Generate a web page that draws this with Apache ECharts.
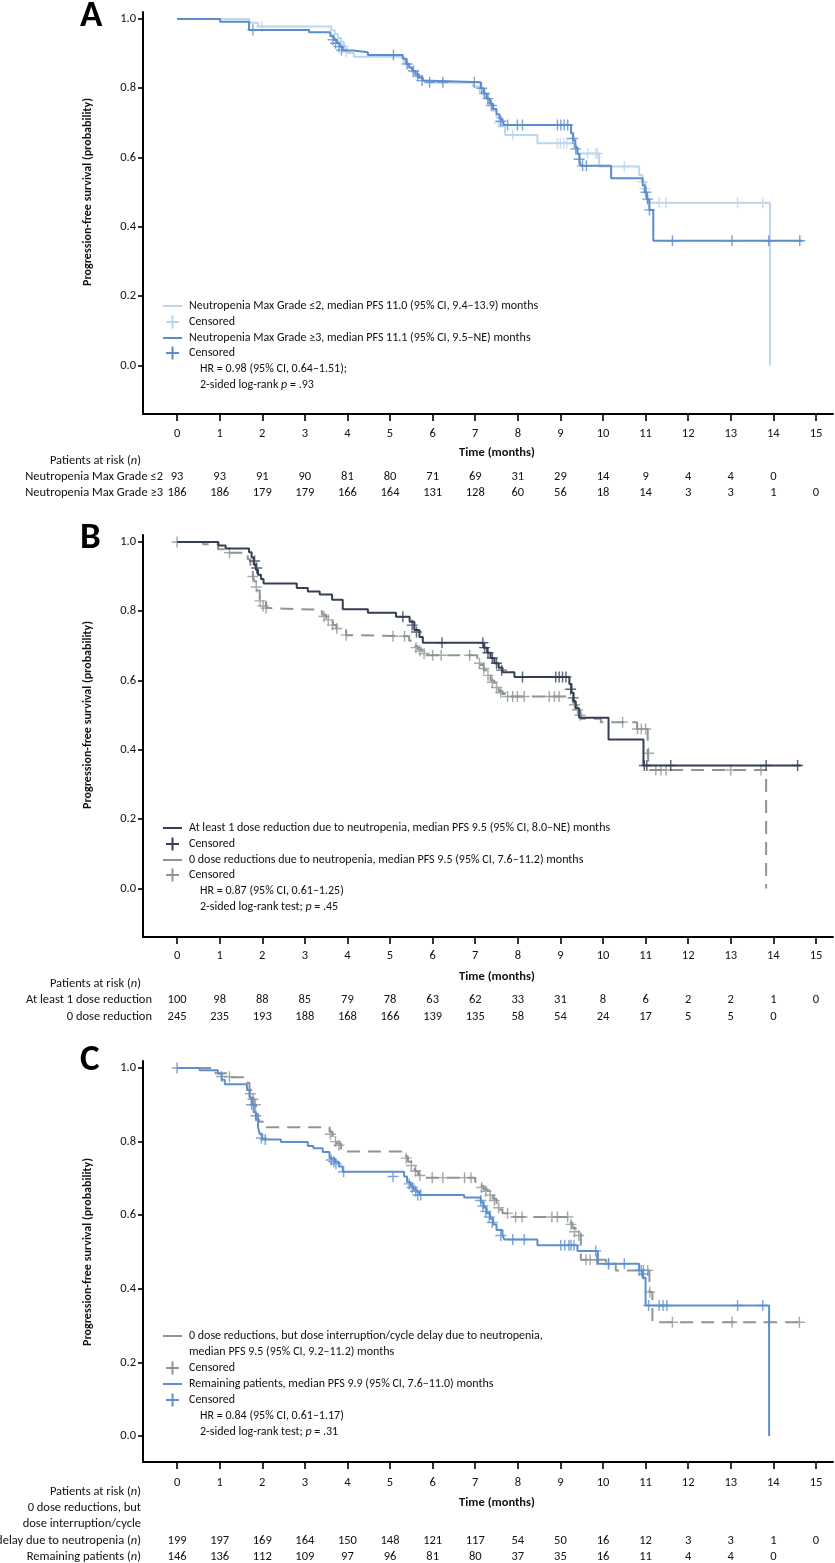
<!DOCTYPE html>
<html><head><meta charset="utf-8">
<script src="https://cdn.jsdelivr.net/npm/echarts@6/dist/echarts.min.js"></script>
<style>html,body{margin:0;padding:0;background:#fff}#c{width:835px;height:1563px}</style>
</head><body><div id="c"></div>
<script>
// ---------------- data ----------------
const months = [0,1,2,3,4,5,6,7,8,9,10,11,12,13,14,15];
const yTicks = [0,0.2,0.4,0.6,0.8,1.0];

const riskA_le2 = [93,93,91,90,81,80,71,69,31,29,14,9,4,4,0];
const riskA_ge3 = [186,186,179,179,166,164,131,128,60,56,18,14,3,3,1,0];
const riskB_ge1 = [100,98,88,85,79,78,63,62,33,31,8,6,2,2,1,0];
const riskB_0   = [245,235,193,188,168,166,139,135,58,54,24,17,5,5,0];
const riskC_int = [199,197,169,164,150,148,121,117,54,50,16,12,3,3,1,0];
const riskC_rem = [146,136,112,109,97,96,81,80,37,35,16,11,4,4,0];

const kmA_le2 = [[0,1],[1.70,0.989],[1.90,0.978],[3.62,0.967],[3.70,0.956],[3.78,0.945],[3.85,0.935],[3.90,0.924],[3.95,0.913],[4.00,0.902],[4.15,0.891],[5.32,0.875],[5.42,0.86],[5.52,0.845],[5.62,0.832],[5.75,0.822],[5.85,0.816],[6.95,0.805],[7.10,0.79],[7.20,0.775],[7.30,0.755],[7.40,0.735],[7.50,0.715],[7.58,0.69],[7.70,0.665],[8.46,0.641],[9.32,0.625],[9.40,0.612],[9.91,0.574],[10.85,0.55],[10.93,0.53],[11.00,0.50],[11.04,0.4695],[13.92,0]];
const censA_le2 = [[1.99,0.978],[3.92,0.92],[3.97,0.905],[7.55,0.70],[7.88,0.665],[8.93,0.641],[9.0,0.641],[9.08,0.641],[9.15,0.641],[9.64,0.612],[9.83,0.612],[9.87,0.612],[10.5,0.574],[10.93,0.53],[10.98,0.51],[11.32,0.4695],[11.48,0.4695],[13.16,0.4695],[13.75,0.4695]];
const kmA_ge3 = [[0,1],[1.01,0.992],[1.69,0.968],[3.10,0.9615],[3.60,0.95],[3.68,0.94],[3.75,0.93],[3.82,0.92],[3.89,0.909],[4.13,0.904],[4.48,0.896],[5.30,0.885],[5.38,0.87],[5.45,0.86],[5.52,0.85],[5.60,0.84],[5.68,0.83],[5.77,0.822],[5.81,0.817],[7.13,0.80],[7.20,0.785],[7.27,0.77],[7.35,0.755],[7.42,0.74],[7.50,0.725],[7.57,0.712],[7.64,0.704],[7.68,0.694],[9.25,0.67],[9.30,0.65],[9.35,0.63],[9.40,0.61],[9.45,0.59],[9.48,0.576],[10.19,0.54],[10.93,0.52],[10.98,0.50],[11.03,0.48],[11.09,0.449],[11.18,0.36],[14.69,0.36]];
const censA_ge3 = [[1.78,0.968],[3.66,0.94],[3.72,0.93],[3.80,0.92],[3.86,0.91],[5.08,0.896],[5.40,0.87],[5.55,0.85],[5.65,0.835],[5.75,0.822],[5.93,0.817],[6.24,0.817],[6.98,0.817],[7.15,0.80],[7.22,0.785],[7.30,0.77],[7.38,0.75],[7.60,0.705],[7.76,0.694],[7.99,0.694],[8.11,0.694],[8.93,0.694],[9.01,0.694],[9.09,0.694],[9.17,0.694],[9.29,0.655],[9.36,0.625],[9.44,0.595],[9.52,0.576],[9.61,0.576],[11.01,0.50],[11.05,0.48],[11.09,0.449],[11.63,0.36],[13.03,0.36],[13.89,0.36],[14.62,0.36]];

const kmB_ge1 = [[0,1],[0.97,0.99],[1.14,0.981],[1.69,0.97],[1.75,0.955],[1.80,0.935],[1.85,0.92],[1.90,0.905],[1.97,0.893],[2.03,0.88],[2.81,0.867],[3.07,0.857],[3.35,0.848],[3.64,0.833],[3.89,0.806],[4.48,0.796],[5.14,0.784],[5.46,0.77],[5.57,0.746],[5.69,0.726],[5.77,0.709],[7.20,0.695],[7.28,0.68],[7.36,0.665],[7.45,0.65],[7.55,0.637],[7.64,0.624],[7.92,0.61],[9.21,0.59],[9.26,0.565],[9.31,0.54],[9.36,0.52],[9.44,0.493],[10.13,0.43],[10.95,0.355],[14.65,0.355]];
const censB_ge1 = [[1.82,0.945],[1.87,0.925],[5.30,0.784],[5.52,0.76],[5.62,0.74],[6.22,0.709],[7.18,0.709],[7.22,0.695],[7.30,0.68],[7.40,0.665],[7.50,0.65],[7.62,0.63],[8.11,0.61],[8.89,0.61],[8.97,0.61],[9.05,0.61],[9.13,0.61],[9.24,0.575],[9.30,0.55],[10.97,0.355],[11.03,0.355],[11.59,0.355],[13.83,0.355],[14.57,0.355]];
const kmB_0 = [[0,1],[0.61,0.993],[0.96,0.979],[1.19,0.969],[1.66,0.95],[1.72,0.925],[1.78,0.9],[1.82,0.886],[1.88,0.86],[1.94,0.828],[2.09,0.809],[2.15,0.804],[3.40,0.79],[3.50,0.78],[3.58,0.77],[3.66,0.76],[3.74,0.75],[3.81,0.746],[3.97,0.731],[4.05,0.728],[5.45,0.715],[5.55,0.70],[5.65,0.69],[5.75,0.68],[5.85,0.673],[7.05,0.66],[7.12,0.645],[7.20,0.63],[7.28,0.615],[7.36,0.60],[7.45,0.585],[7.55,0.57],[7.64,0.561],[7.70,0.554],[9.29,0.54],[9.35,0.525],[9.42,0.51],[9.48,0.49],[9.95,0.48],[10.80,0.46],[11.05,0.386],[11.09,0.342],[13.83,0]];
const censB_0 = [[0,1],[1.23,0.969],[1.78,0.9],[1.86,0.87],[1.95,0.83],[2.02,0.815],[2.09,0.809],[3.45,0.785],[3.55,0.775],[3.65,0.76],[3.75,0.75],[3.97,0.731],[5.07,0.728],[5.34,0.728],[5.61,0.695],[5.70,0.685],[5.80,0.678],[6.00,0.673],[6.20,0.673],[6.87,0.673],[7.10,0.65],[7.20,0.635],[7.30,0.615],[7.40,0.595],[7.50,0.58],[7.60,0.565],[7.76,0.554],[7.88,0.554],[7.99,0.554],[8.15,0.554],[8.74,0.554],[8.86,0.554],[8.97,0.554],[9.33,0.53],[9.40,0.515],[9.46,0.50],[10.46,0.48],[10.81,0.46],[10.90,0.46],[11.0,0.46],[11.07,0.39],[11.24,0.342],[11.36,0.342],[11.48,0.342],[13.0,0.342],[13.71,0.342]];

const kmC_int = [[0,1],[0.90,0.986],[1.20,0.975],[1.64,0.96],[1.70,0.94],[1.75,0.92],[1.80,0.90],[1.85,0.88],[1.90,0.865],[1.94,0.854],[2.05,0.845],[2.10,0.839],[3.58,0.827],[3.65,0.81],[3.74,0.795],[3.85,0.78],[3.92,0.773],[5.33,0.76],[5.42,0.745],[5.50,0.73],[5.58,0.72],[5.66,0.71],[5.75,0.702],[7.00,0.69],[7.10,0.68],[7.20,0.67],[7.30,0.66],[7.41,0.645],[7.50,0.63],[7.58,0.615],[7.64,0.605],[7.90,0.595],[9.20,0.58],[9.28,0.565],[9.36,0.55],[9.48,0.479],[10.07,0.468],[10.30,0.45],[11.09,0.391],[11.16,0.309],[14.65,0.309]];
const censC_int = [[1.04,0.977],[1.23,0.976],[1.72,0.93],[1.78,0.915],[1.84,0.9],[3.60,0.82],[3.72,0.80],[3.80,0.79],[5.38,0.755],[5.50,0.735],[5.60,0.72],[5.70,0.708],[5.99,0.702],[6.24,0.702],[6.75,0.702],[6.90,0.702],[7.15,0.675],[7.25,0.665],[7.35,0.655],[7.45,0.64],[7.55,0.62],[7.76,0.605],[7.95,0.595],[8.10,0.595],[8.80,0.595],[8.93,0.595],[9.17,0.595],[9.25,0.575],[9.33,0.555],[9.43,0.545],[9.60,0.479],[9.70,0.479],[9.85,0.479],[10.13,0.468],[10.85,0.45],[10.95,0.45],[11.05,0.45],[11.10,0.391],[11.63,0.309],[13.03,0.309],[13.89,0.309],[14.61,0.309]];
const kmC_rem = [[0,1],[0.53,0.994],[0.96,0.985],[1.05,0.968],[1.12,0.956],[1.64,0.94],[1.70,0.92],[1.75,0.90],[1.80,0.88],[1.85,0.86],[1.90,0.84],[1.94,0.82],[2.00,0.806],[2.44,0.799],[3.07,0.788],[3.20,0.782],[3.42,0.772],[3.58,0.755],[3.70,0.745],[3.80,0.732],[3.89,0.718],[5.33,0.705],[5.40,0.69],[5.48,0.68],[5.55,0.67],[5.62,0.664],[5.69,0.655],[6.74,0.648],[7.13,0.635],[7.20,0.62],[7.27,0.605],[7.35,0.59],[7.42,0.575],[7.50,0.56],[7.64,0.545],[7.68,0.534],[8.46,0.518],[9.40,0.503],[9.88,0.468],[10.85,0.45],[10.93,0.43],[11.00,0.3545],[13.90,0]];
const censC_rem = [[0,1],[1.75,0.9],[1.85,0.87],[1.98,0.81],[2.07,0.806],[3.62,0.75],[3.68,0.745],[3.73,0.74],[3.91,0.718],[5.07,0.705],[5.45,0.685],[5.52,0.675],[5.60,0.665],[5.65,0.655],[5.72,0.655],[7.13,0.64],[7.18,0.625],[7.25,0.61],[7.33,0.595],[7.40,0.58],[7.60,0.545],[7.88,0.534],[8.15,0.534],[9.01,0.518],[9.10,0.518],[9.20,0.518],[9.25,0.518],[9.32,0.518],[9.83,0.503],[10.13,0.468],[10.50,0.468],[10.90,0.45],[10.95,0.44],[11.07,0.3545],[11.32,0.3545],[11.41,0.3545],[11.50,0.3545],[13.16,0.3545],[13.75,0.3545]];

// ---------------- style ----------------
const F = 'Carlito, Lato, "Open Sans", sans-serif';
const C_LIGHT = '#bcd6ee', C_BLUE = '#5b8ccb', C_NAVY = '#353f53', C_GRAY = '#8e9595', C_BLUE2 = '#5d8fd0';
const PLUS = 'path://M4.35,0H5.65V4.35H10V5.65H5.65V10H4.35V5.65H0V4.35H4.35Z';
const XMIN = -0.8, XMAX = 15.4;
const TS = 12.5;   // tick / table font size
const LS = 12;     // legend font size

const panels = [
  {top:12,   height:402, ymin:-0.14,  ymax:1.02,  lab:20, r1:63, r2:79, risk:[riskA_le2, riskA_ge3]},
  {top:535,  height:402, ymin:-0.14,  ymax:1.02,  lab:19, r1:63, r2:80, risk:[riskB_ge1, riskB_0]},
  {top:1061, height:401, ymin:-0.0707,ymax:1.019, lab:21, r1:79, r2:95, risk:[riskC_int, riskC_rem]}
];

const grid = [], xAxis = [], yAxis = [];
panels.forEach((p, g) => {
  grid.push({left:143, width:690, top:p.top, height:p.height, containLabel:false, outerBoundsMode:'none'});
  xAxis.push({gridIndex:g, type:'value', min:XMIN, max:XMAX, position:'bottom',
    axisLine:{show:true, onZero:false, lineStyle:{color:'#000', width:2}},
    axisTick:{show:true, customValues:months, length:7, lineStyle:{color:'#000', width:1.6}},
    axisLabel:{customValues:months, margin:p.lab, verticalAlign:'middle', fontSize:TS, color:'#111', fontFamily:F},
    splitLine:{show:false}});
  [p.r1, p.r2].forEach((off, k) => {
    const arr = p.risk[k];
    xAxis.push({gridIndex:g, type:'value', min:XMIN, max:XMAX, position:'bottom', offset:off,
      axisLine:{show:false}, axisTick:{show:false}, splitLine:{show:false},
      axisLabel:{customValues:months, margin:0, verticalAlign:'middle', fontSize:TS, color:'#111', fontFamily:F,
        formatter: v => { const i = Math.round(v); return arr[i] === undefined ? '' : String(arr[i]); }}});
  });
  yAxis.push({gridIndex:g, type:'value', min:p.ymin, max:p.ymax,
    axisLine:{show:true, onZero:false, lineStyle:{color:'#000', width:2}},
    axisTick:{show:true, customValues:yTicks, length:5, lineStyle:{color:'#000', width:1.6}},
    axisLabel:{customValues:yTicks, formatter: v => v.toFixed(1), margin:7, fontSize:TS, color:'#111', fontFamily:F},
    splitLine:{show:false}});
});

function km(g, data, color, dashed, z) {
  return {type:'line', xAxisIndex:3*g, yAxisIndex:g, data, step:'end', showSymbol:false, symbol:'none',
    lineStyle:{color, width:2, type: dashed ? [13,8] : 'solid'}, z, silent:true};
}
function cens(g, data, color, z) {
  return {type:'scatter', xAxisIndex:3*g, yAxisIndex:g, data, symbol:PLUS, symbolSize:11,
    itemStyle:{color}, z, silent:true};
}
const series = [
  km(0, kmA_le2, C_LIGHT, false, 2), cens(0, censA_le2, C_LIGHT, 3),
  km(0, kmA_ge3, C_BLUE, false, 4),  cens(0, censA_ge3, C_BLUE, 5),
  km(1, kmB_0, C_GRAY, true, 2),     cens(1, censB_0, C_GRAY, 3),
  km(1, kmB_ge1, C_NAVY, false, 4),  cens(1, censB_ge1, C_NAVY, 5),
  km(2, kmC_int, C_GRAY, true, 2),   cens(2, censC_int, C_GRAY, 3),
  km(2, kmC_rem, C_BLUE2, false, 4), cens(2, censC_rem, C_BLUE2, 5)
];

// ---------------- text / legends ----------------
const G = [];
function txt(x, y, text, o = {}) {
  const size = o.size || LS;
  G.push({type:'text', x, y, rotation:o.rot || 0, silent:true, style:{text, fill:o.fill || '#111',
    font:(o.bold ? 'bold ' : '') + size + 'px ' + F,
    textAlign:o.align || 'left', textVerticalAlign:'middle',
    rich:{i:{fontStyle:'italic', fontSize:size, fontFamily:F, fill:'#111'}}}});
}
function legLine(y, color) { G.push({type:'line', silent:true, shape:{x1:163, y1:y, x2:182, y2:y}, style:{stroke:color, lineWidth:2}}); }
function legPlus(y, color) {
  G.push({type:'line', silent:true, shape:{x1:166, y1:y, x2:179, y2:y}, style:{stroke:color, lineWidth:2}});
  G.push({type:'line', silent:true, shape:{x1:172.5, y1:y-6.5, x2:172.5, y2:y+6.5}, style:{stroke:color, lineWidth:2}});
}
const LX = 189, HX = 200;

txt(80, 17, 'A', {bold:true, size:37, fill:'#000'});
txt(80, 539, 'B', {bold:true, size:37, fill:'#000'});
txt(80, 1061, 'C', {bold:true, size:37, fill:'#000'});

const YT = 'Progression-free survival (probability)';
txt(88, 192, YT, {bold:true, rot:Math.PI/2, align:'center', size:12});
txt(88, 715, YT, {bold:true, rot:Math.PI/2, align:'center', size:12});
txt(88, 1252, YT, {bold:true, rot:Math.PI/2, align:'center', size:12});

txt(497, 453, 'Time (months)', {bold:true, align:'center', size:12.5});
txt(497, 977, 'Time (months)', {bold:true, align:'center', size:12.5});
txt(497, 1503, 'Time (months)', {bold:true, align:'center', size:12.5});

legLine(306, C_LIGHT); txt(LX, 306, 'Neutropenia Max Grade \u22642, median PFS 11.0 (95% CI, 9.4\u201313.9) months');
legPlus(322, C_LIGHT); txt(LX, 322, 'Censored');
legLine(338, C_BLUE);  txt(LX, 338, 'Neutropenia Max Grade \u22653, median PFS 11.1 (95% CI, 9.5\u2013NE) months');
legPlus(353, C_BLUE);  txt(LX, 353, 'Censored');
txt(HX, 369, 'HR = 0.98 (95% CI, 0.64\u20131.51);');
txt(HX, 385, '2-sided log-rank {i|p} = .93');

legLine(828, C_NAVY); txt(LX, 828, 'At least 1 dose reduction due to neutropenia, median PFS 9.5 (95% CI, 8.0\u2013NE) months');
legPlus(844, C_NAVY); txt(LX, 844, 'Censored');
legLine(860, C_GRAY); txt(LX, 860, '0 dose reductions due to neutropenia, median PFS 9.5 (95% CI, 7.6\u201311.2) months');
legPlus(875, C_GRAY); txt(LX, 875, 'Censored');
txt(HX, 891, 'HR = 0.87 (95% CI, 0.61\u20131.25)');
txt(HX, 907, '2-sided log-rank test; {i|p} = .45');

legLine(1336, C_GRAY); txt(LX, 1336, '0 dose reductions, but dose interruption/cycle delay due to neutropenia,');
txt(LX, 1352, 'median PFS 9.5 (95% CI, 9.2\u201311.2) months');
legPlus(1368, C_GRAY); txt(LX, 1368, 'Censored');
legLine(1384, C_BLUE2); txt(LX, 1384, 'Remaining patients, median PFS 9.9 (95% CI, 7.6\u201311.0) months');
legPlus(1400, C_BLUE2); txt(LX, 1400, 'Censored');
txt(HX, 1416, 'HR = 0.84 (95% CI, 0.61\u20131.17)');
txt(HX, 1432, '2-sided log-rank test; {i|p} = .31');

txt(141, 461, 'Patients at risk ({i|n})', {align:'right', size:TS});
txt(163, 477, 'Neutropenia Max Grade \u22642', {align:'right', size:TS});
txt(163, 493, 'Neutropenia Max Grade \u22653', {align:'right', size:TS});

txt(141, 984, 'Patients at risk ({i|n})', {align:'right', size:TS});
txt(152, 1000, 'At least 1 dose reduction', {align:'right', size:TS});
txt(152, 1017, '0 dose reduction', {align:'right', size:TS});

txt(141, 1492, 'Patients at risk ({i|n})', {align:'right', size:TS});
txt(141, 1508, '0 dose reductions, but', {align:'right', size:TS});
txt(141, 1524, 'dose interruption/cycle', {align:'right', size:TS});
txt(141, 1541, 'delay due to neutropenia ({i|n})', {align:'right', size:TS});
txt(141, 1557, 'Remaining patients ({i|n})', {align:'right', size:TS});

const chart = echarts.init(document.getElementById('c'), null, {renderer:'canvas'});
chart.setOption({animation:false, backgroundColor:'#fff', grid, xAxis, yAxis, series, graphic:{elements:G}});
</script></body></html>
